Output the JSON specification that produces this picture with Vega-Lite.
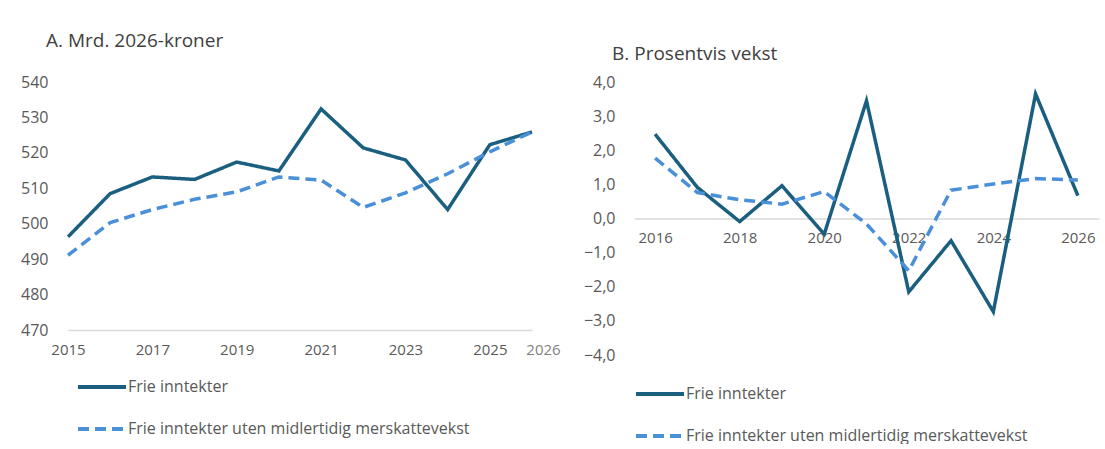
{
  "$schema": "https://vega.github.io/schema/vega-lite/v6.json",
  "padding": {"left": 20, "top": 32, "right": 5, "bottom": 0},
  "background": "white",
  "spacing": 22,
  "datasets": {
    "a": [
      {"year": 2015, "series": "Frie inntekter", "value": 496.3},
      {"year": 2016, "series": "Frie inntekter", "value": 508.5},
      {"year": 2017, "series": "Frie inntekter", "value": 513.2},
      {"year": 2018, "series": "Frie inntekter", "value": 512.5},
      {"year": 2019, "series": "Frie inntekter", "value": 517.4},
      {"year": 2020, "series": "Frie inntekter", "value": 514.9},
      {"year": 2021, "series": "Frie inntekter", "value": 532.4},
      {"year": 2022, "series": "Frie inntekter", "value": 521.4},
      {"year": 2023, "series": "Frie inntekter", "value": 518.0},
      {"year": 2024, "series": "Frie inntekter", "value": 504.0},
      {"year": 2025, "series": "Frie inntekter", "value": 522.3},
      {"year": 2026, "series": "Frie inntekter", "value": 525.9},
      {"year": 2015, "series": "Frie inntekter uten midlertidig merskattevekst", "value": 491.1},
      {"year": 2016, "series": "Frie inntekter uten midlertidig merskattevekst", "value": 500.3},
      {"year": 2017, "series": "Frie inntekter uten midlertidig merskattevekst", "value": 504.0},
      {"year": 2018, "series": "Frie inntekter uten midlertidig merskattevekst", "value": 506.9},
      {"year": 2019, "series": "Frie inntekter uten midlertidig merskattevekst", "value": 509.0},
      {"year": 2020, "series": "Frie inntekter uten midlertidig merskattevekst", "value": 513.2},
      {"year": 2021, "series": "Frie inntekter uten midlertidig merskattevekst", "value": 512.3},
      {"year": 2022, "series": "Frie inntekter uten midlertidig merskattevekst", "value": 504.6},
      {"year": 2023, "series": "Frie inntekter uten midlertidig merskattevekst", "value": 508.7},
      {"year": 2024, "series": "Frie inntekter uten midlertidig merskattevekst", "value": 514.1},
      {"year": 2025, "series": "Frie inntekter uten midlertidig merskattevekst", "value": 520.3},
      {"year": 2026, "series": "Frie inntekter uten midlertidig merskattevekst", "value": 525.9}
    ],
    "b": [
      {"year": 2016, "series": "Frie inntekter", "value": 2.47},
      {"year": 2017, "series": "Frie inntekter", "value": 0.91},
      {"year": 2018, "series": "Frie inntekter", "value": -0.09},
      {"year": 2019, "series": "Frie inntekter", "value": 0.96},
      {"year": 2020, "series": "Frie inntekter", "value": -0.46},
      {"year": 2021, "series": "Frie inntekter", "value": 3.45},
      {"year": 2022, "series": "Frie inntekter", "value": -2.15},
      {"year": 2023, "series": "Frie inntekter", "value": -0.65},
      {"year": 2024, "series": "Frie inntekter", "value": -2.73},
      {"year": 2025, "series": "Frie inntekter", "value": 3.65},
      {"year": 2026, "series": "Frie inntekter", "value": 0.67},
      {"year": 2016, "series": "Frie inntekter uten midlertidig merskattevekst", "value": 1.77},
      {"year": 2017, "series": "Frie inntekter uten midlertidig merskattevekst", "value": 0.76},
      {"year": 2018, "series": "Frie inntekter uten midlertidig merskattevekst", "value": 0.55},
      {"year": 2019, "series": "Frie inntekter uten midlertidig merskattevekst", "value": 0.42},
      {"year": 2020, "series": "Frie inntekter uten midlertidig merskattevekst", "value": 0.79},
      {"year": 2021, "series": "Frie inntekter uten midlertidig merskattevekst", "value": -0.16},
      {"year": 2022, "series": "Frie inntekter uten midlertidig merskattevekst", "value": -1.53},
      {"year": 2023, "series": "Frie inntekter uten midlertidig merskattevekst", "value": 0.83},
      {"year": 2024, "series": "Frie inntekter uten midlertidig merskattevekst", "value": 1.01},
      {"year": 2025, "series": "Frie inntekter uten midlertidig merskattevekst", "value": 1.17},
      {"year": 2026, "series": "Frie inntekter uten midlertidig merskattevekst", "value": 1.13}
    ]
  },
  "hconcat": [
    {
      "width": 464,
      "height": 248,
      "title": {"text": "A. Mrd. 2026-kroner", "anchor": "start", "frame": "group", "dx": -22, "offset": 23},
      "data": {"name": "a"},
      "mark": {"type": "line", "strokeWidth": 3.5, "strokeJoin": "miter", "clip": false},
      "encoding": {
        "x": {"field": "year", "type": "quantitative",
          "scale": {"domain": [2015, 2026], "nice": false, "zero": false},
          "axis": {"values": [2015, 2017, 2019, 2021, 2023, 2025, 2026], "labelFlush": false, "format": "d",
            "labelOffset": {"condition": {"test": "datum.value == 2026", "value": 11}, "value": 0},
            "labelColor": {"condition": {"test": "datum.value == 2026", "value": "#7f7f7f"}, "value": "#595959"}}},
        "y": {"field": "value", "type": "quantitative",
          "scale": {"domain": [470, 540], "nice": false, "zero": false},
          "axis": {"values": [470, 480, 490, 500, 510, 520, 530, 540], "domain": false, "labelPadding": 20}},
        "color": {"field": "series", "type": "nominal",
          "scale": {"domain": ["Frie inntekter", "Frie inntekter uten midlertidig merskattevekst"], "range": ["#1A5F7F", "#4A90D9"]},
          "legend": {"orient": "none", "legendX": 8, "legendY": 279}},
        "strokeDash": {"field": "series", "type": "nominal",
          "scale": {"domain": ["Frie inntekter", "Frie inntekter uten midlertidig merskattevekst"], "range": [[1, 0], [11, 6]]},
          "legend": {"orient": "none", "legendX": 8, "legendY": 279}}
      }
    },
    {
      "width": 465,
      "height": 273,
      "title": {"text": "B. Prosentvis vekst", "anchor": "start", "frame": "group", "dx": -22, "offset": 10},
      "data": {"name": "b"},
      "mark": {"type": "line", "strokeWidth": 3.5, "strokeJoin": "miter", "clip": false},
      "encoding": {
        "x": {"field": "year", "type": "quantitative",
          "scale": {"domain": [2015.5, 2026.5], "nice": false, "zero": false},
          "axis": {"values": [2016, 2018, 2020, 2022, 2024, 2026], "labelFlush": false, "format": "d", "offset": -136.5}},
        "y": {"field": "value", "type": "quantitative",
          "scale": {"domain": [-4, 4], "nice": false, "zero": false},
          "axis": {"values": [-4, -3, -2, -1, 0, 1, 2, 3, 4], "domain": false, "labelPadding": 19,
            "labelExpr": "replace(format(datum.value, '.1f'), '.', ',')"}},
        "color": {"field": "series", "type": "nominal",
          "scale": {"domain": ["Frie inntekter", "Frie inntekter uten midlertidig merskattevekst"], "range": ["#1A5F7F", "#4A90D9"]},
          "legend": {"orient": "none", "legendX": 0, "legendY": 286}},
        "strokeDash": {"field": "series", "type": "nominal",
          "scale": {"domain": ["Frie inntekter", "Frie inntekter uten midlertidig merskattevekst"], "range": [[1, 0], [11, 6]]},
          "legend": {"orient": "none", "legendX": 0, "legendY": 286}}
      }
    }
  ],
  "resolve": {"scale": {"x": "independent", "y": "independent", "color": "independent", "strokeDash": "independent"}, "legend": {"color": "independent", "strokeDash": "independent"}},
  "config": {
    "font": "Open Sans",
    "view": {"stroke": null},
    "title": {"fontSize": 19, "fontWeight": "normal", "color": "#404040", "font": "Open Sans"},
    "axis": {
      "grid": false, "ticks": false, "title": null,
      "labelFont": "Open Sans", "labelFontSize": 15, "labelColor": "#595959",
      "domainColor": "#d9d9d9", "domainWidth": 1.5
    },
    "axisY": {"labelFontSize": 16},
    "axisX": {"labelPadding": 12},
    "legend": {
      "title": null, "direction": "vertical", "symbolType": "stroke",
      "symbolSize": 2304, "symbolStrokeWidth": 4, "labelFont": "Open Sans",
      "labelFontSize": 16, "labelColor": "#595959", "labelOffset": 0,
      "padding": 0, "labelLimit": 500, "rowPadding": 8
    }
  }
}
